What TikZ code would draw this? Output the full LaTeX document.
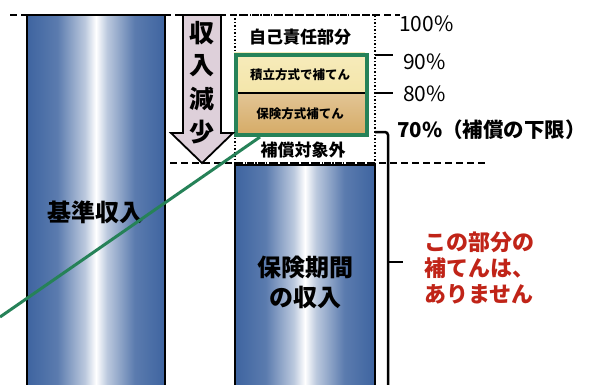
\documentclass[tikz,border=0pt]{standalone}
\usepackage{fontspec}
\setmainfont{Noto Sans CJK JP}
\usetikzlibrary{positioning}
\definecolor{barblue}{RGB}{62,100,160}
\definecolor{pinkfill}{RGB}{222,208,218}
\definecolor{kgreen}{RGB}{38,130,88}
\definecolor{yellowfill}{RGB}{244,230,170}
\definecolor{tanfill}{RGB}{214,172,104}
\definecolor{redtext}{RGB}{192,36,24}
\pgfdeclarehorizontalshading{cyl}{100bp}{color(0bp)=(barblue); color(25bp)=(barblue);
  color(36bp)=(barblue!85!white); color(46bp)=(barblue!35!white); color(50bp)=(white);
  color(54bp)=(barblue!35!white); color(64bp)=(barblue!85!white); color(75bp)=(barblue);
  color(100bp)=(barblue)}

\begin{document}
\begin{tikzpicture}[
x=1pt,y=-1pt,
bar/.style={shading=cyl},
cut/.style={dashed,line width=1.8pt,dash pattern=on 7pt off 4pt},
tick/.style={line width=1.8pt},
big/.style={font=\bfseries\fontsize{24}{30}\selectfont,inner sep=0pt,align=center},
mid/.style={font=\bfseries\fontsize{17}{20}\selectfont,inner sep=0pt},
small/.style={font=\bfseries\fontsize{12.5}{15}\selectfont,inner sep=0pt},
pct/.style={font=\fontsize{21}{24}\selectfont,inner sep=0pt,anchor=west}
]
\path[use as bounding box] (0,0) rectangle (591,385);
\clip (0,0) rectangle (591,385);
% bars
\shade[bar] (27,15) rectangle (165,385);
\draw[line width=1.2pt] (27,385) -- (27,15) -- (165,15) -- (165,385);
\shade[bar] (235,165) rectangle (375,385);
\draw[line width=1.2pt] (235,385) -- (235,165) -- (375,165) -- (375,385);
% upper column
\draw[dotted,line width=1.5pt,fill=white] (235,15) rectangle (375,163);
\fill[top color=yellowfill!80!white,bottom color=yellowfill] (234,53) rectangle (365,93);
\fill[top color=tanfill!70!white,bottom color=tanfill] (234,93) rectangle (365,133);
\draw[line width=1.8pt] (234,93) -- (365,93);
\node[draw=kgreen,line width=4pt,minimum width=131pt,minimum height=80pt,
  anchor=north west,inner sep=0pt] (hosho) at (234,53) {};
\node[mid] (jiko) at (300,37) {自己責任部分};
\node[small] (tsumi) at (300,75) {積立方式で補てん};
\node[small] (hoken) at (300,114) {保険方式補てん};
\node[mid] (taisho) at (303,150) {補償対象外};
% arrow
\draw[fill=pinkfill,line width=1.8pt,line join=miter]
  (183,15) -- (221,15) -- (221,133) -- (233,133) -- (202,163)
  -- (171,133) -- (183,133) -- cycle;
\foreach \Ch [count=\i] in {収,入,減,少}
  \node[font=\bfseries\fontsize{25}{25}\selectfont,inner sep=0pt] (gen\i) at (202,33*\i) {\Ch};
% levels
\draw[cut] (10,15) -- (400,15);
\draw[cut] (170,163) -- (485,163);
\coordinate (t90) at (375,55);
\coordinate (t80) at (375,93);
\draw[tick] (t90) -- ++(18,0);
\draw[tick] (t80) -- ++(18,0);
\node[pct] (p100) at (399,24) {100\%};
\node[pct] (p90) at (403,62) {90\%};
\node[pct] (p80) at (403,94) {80\%};
\node[pct,font=\bfseries\fontsize{20.5}{24}\selectfont] (p70) at (397,130) {70\%（補償の下限）};
% bracket
\coordinate (br) at (375,132);
\draw[line width=2.5pt,rounded corners=3pt] (br) -| (388,385);
\draw[line width=2.5pt] (388,262) -- (403,262);
% texts
\node[big] (kijun) at (95,212) {基準収入};
\node[big] (kikan) at (305,282) {保険期間\\の収入};
\node[font=\bfseries\fontsize{22}{26}\selectfont,text=redtext,align=left,
  inner sep=0pt,anchor=west] (nashi) at (424,268) {この部分の\\補てんは、\\ありません};
% green line
\coordinate (gl) at (0,317);
\draw[kgreen,line width=3pt] (gl) -- ([xshift=26pt]hosho.south west);
\end{tikzpicture}
\end{document}
